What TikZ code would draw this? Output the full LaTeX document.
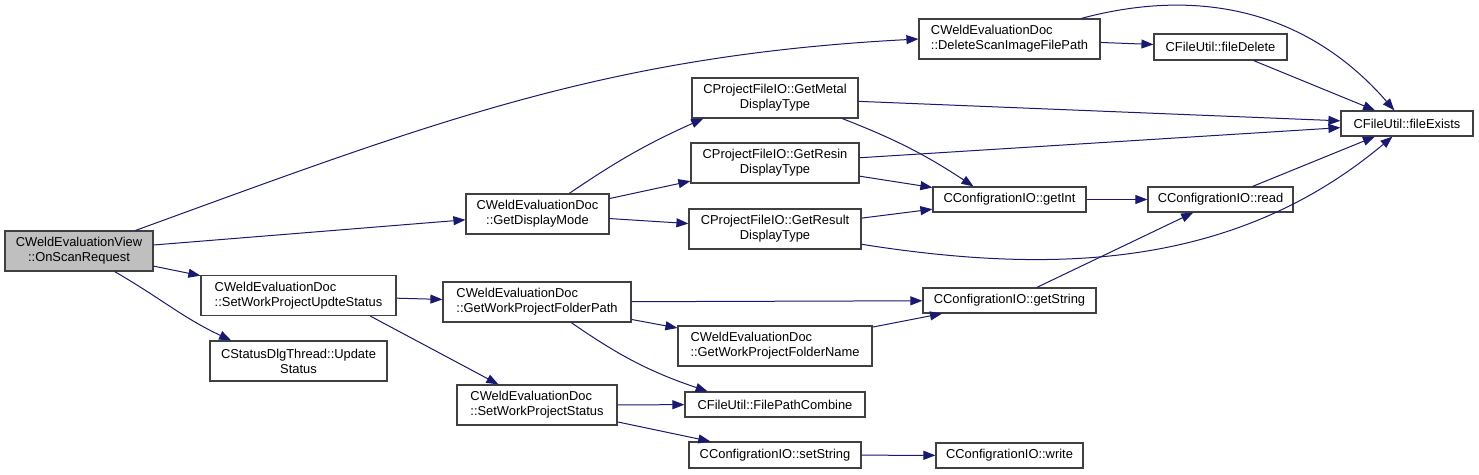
\documentclass[tikz,border=0pt]{standalone}
\usepackage{fontspec}
\setmainfont{Liberation Sans}
\usepackage{xcolor}
\usepackage{tikz}
\usetikzlibrary{arrows.meta}
\definecolor{callblue}{RGB}{25,25,112}

\begin{document}
\begin{tikzpicture}[x=1pt, y=-1pt,
  fnbox/.style={draw=black!75, line width=1.2pt, fill=white, inner sep=0pt,
    font=\fontsize{12.9}{15}\selectfont},
  call/.style={draw=callblue, line width=1pt, -{Triangle[length=12pt,width=9pt]}}]
  \fill[white] (0,0) rectangle (1479,474);
  \useasboundingbox (0,0) rectangle (1479,474);

  % Caller
  \node[fnbox, fill=black!25, minimum width=148, minimum height=40, align=center] (view) at (79,251) {CWeldEvaluationView\\::OnScanRequest};

  % Second column
  \node[fnbox, minimum width=195, minimum height=40, align=left] (updte) at (298.5,295.5) {CWeldEvaluationDoc\\::SetWorkProjectUpdteStatus};
  \node[fnbox, minimum width=177, minimum height=40, align=center] (status) at (298.5,361) {CStatusDlgThread::Update\\Status};

  % Third column
  \node[fnbox, minimum width=143, minimum height=40, align=center] (mode) at (537.5,214) {CWeldEvaluationDoc\\::GetDisplayMode};
  \node[fnbox, minimum width=188, minimum height=40, align=left] (fpath) at (537,302) {CWeldEvaluationDoc\\::GetWorkProjectFolderPath};
  \node[fnbox, minimum width=160, minimum height=40, align=left] (setst) at (537,405) {CWeldEvaluationDoc\\::SetWorkProjectStatus};

  % Fourth column
  \node[fnbox, minimum width=166, minimum height=40, align=center] (metal) at (775,98) {CProjectFileIO::GetMetal\\DisplayType};
  \node[fnbox, minimum width=168, minimum height=40, align=center] (resin) at (775,163) {CProjectFileIO::GetResin\\DisplayType};
  \node[fnbox, minimum width=172, minimum height=40, align=center] (result) at (775,229) {CProjectFileIO::GetResult\\DisplayType};
  \node[fnbox, minimum width=194, minimum height=40, align=left] (fname) at (775,346) {CWeldEvaluationDoc\\::GetWorkProjectFolderName};
  \node[fnbox, minimum width=180, minimum height=25] (comb) at (775,404.5) {CFileUtil::FilePathCombine};
  \node[fnbox, minimum width=172, minimum height=26] (setstr) at (775,455) {CConfigrationIO::setString};

  % Fifth column
  \node[fnbox, minimum width=181, minimum height=40, align=left] (del) at (1009.5,39) {CWeldEvaluationDoc\\::DeleteScanImageFilePath};
  \node[fnbox, minimum width=153, minimum height=25] (getint) at (1009.5,199.5) {CConfigrationIO::getInt};
  \node[fnbox, minimum width=173, minimum height=25] (getstr) at (1009.5,300.5) {CConfigrationIO::getString};
  \node[fnbox, minimum width=147, minimum height=25] (write) at (1009.5,455.5) {CConfigrationIO::write};

  % Sixth and seventh column
  \node[fnbox, minimum width=133, minimum height=26] (fdel) at (1220.5,47) {CFileUtil::fileDelete};
  \node[fnbox, minimum width=145, minimum height=25] (read) at (1220.5,199.5) {CConfigrationIO::read};
  \node[fnbox, minimum width=132, minimum height=25] (fex) at (1407,123.5) {CFileUtil::fileExists};

  % Straight calls
  \foreach \a/\b in {view/mode, view/updte, del/fdel, fdel/fex, mode/resin, mode/result,
      metal/fex, resin/fex, resin/getint, result/getint, getint/read, read/fex,
      updte/fpath, fpath/getstr, fpath/fname, fname/getstr, getstr/read,
      setst/comb, setst/setstr, setstr/write} {
    \draw[call] (\a) -- (\b);
  }
  \draw[call] (updte.-16) -- (setst);

  % Curved calls
  \draw[call] (view.20) to[out=20, in=183] (del.west);
  \draw[call] (view.-30) to[out=-30, in=155] (status.163);
  \draw[call] (del.16) to[out=15, in=131] (fex.134);
  \draw[call] (mode.33) to[bend left=5] (metal.196);
  \draw[call] (metal.-17) to[bend left=6] (getint.160);
  \draw[call] (result.-10) to[out=-9, in=-140, looseness=0.95] (fex.222);
  \draw[call] (fpath.-31) to[bend right=8] (comb.169);
\end{tikzpicture}
\end{document}
